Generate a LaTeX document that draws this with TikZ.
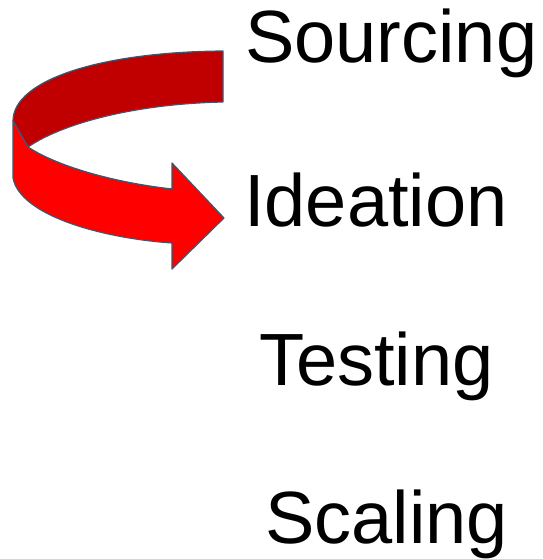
\documentclass[tikz,border=0pt]{standalone}
\usepackage{fontspec}
\setmainfont{Liberation Sans}
\definecolor{darkband}{HTML}{C00000}
\definecolor{brightband}{HTML}{FF0000}
\definecolor{outline}{HTML}{44546A}
\begin{document}
\begin{tikzpicture}[x=1pt,y=-1pt,
  band/.style={draw=outline,line width=1.2pt,line join=round},
  label/.style={anchor=base west,inner sep=0pt,font=\fontsize{74}{80}\selectfont}]
\useasboundingbox (0,0) rectangle (542,559);
% dark back band
\draw[band,fill=darkband] (223,51) .. controls (100,52) and (13,80) .. (13,121)
  -- (28,147) .. controls (60,125) and (130,104) .. (223,102) -- cycle;
% bright front band with head
\draw[band,fill=brightband] (13,121) -- (13,178)
  .. controls (20,215) and (100,238) .. (172,243)
  -- (172,269) -- (224,218) -- (172,163) -- (172,189)
  .. controls (110,182) and (55,165) .. (28,147) -- cycle;
\node[label] (sourcing) at (245,63) {Sourcing};
\node[label] (ideation) at (244,226) {Ideation};
\node[label] (testing) at (259,385) {Testing};
\node[label] (scaling) at (265,543) {Scaling};
\end{tikzpicture}
\end{document}
